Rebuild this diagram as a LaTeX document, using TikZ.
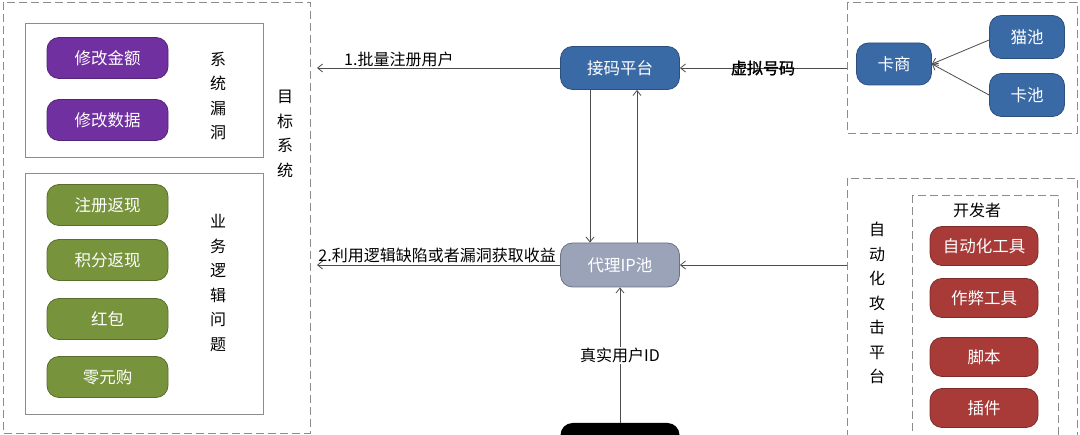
\documentclass[tikz,border=0pt]{standalone}
\usepackage{fontspec}
\newfontfamily\cjk{Noto Sans CJK SC}
\newfontfamily\cjkb[FakeBold=1.5]{Noto Sans CJK SC}
\usetikzlibrary{arrows.meta}
\definecolor{cpurple}{HTML}{7030A0}
\definecolor{cgreen}{HTML}{77933C}
\definecolor{cred}{HTML}{A83A38}
\definecolor{cblue}{HTML}{3A6AA6}
\definecolor{cgray}{HTML}{9AA3B8}
\definecolor{lgray}{HTML}{8C8C8C}
\tikzset{
  pill/.style={rounded corners=12pt, minimum width=121pt, minimum height=41pt, text=white, font=\cjk\fontsize{16.5}{18}\selectfont, inner sep=0pt, line width=0.8pt},
  purplebox/.style={pill, fill=cpurple, draw=cpurple!75!black},
  greenbox/.style={pill, fill=cgreen, draw=cgreen!75!black},
  redbox/.style={pill, fill=cred, draw=cred!75!black, minimum width=108pt, minimum height=39pt},
  bluebox/.style={pill, fill=cblue, draw=cblue!75!black},
  graybox/.style={pill, fill=cgray, draw=cgray!70!black},
  frame/.style={draw=lgray, line width=0.8pt},
  dashframe/.style={draw=lgray, line width=0.8pt, dash pattern=on 8pt off 4pt},
  vlabel/.style={align=center, font=\cjk\fontsize{16}{24.5}\selectfont, inner sep=0pt},
  lbl/.style={font=\cjk\fontsize{16}{18}\selectfont, inner sep=1pt},
  conn/.style={draw=black!70, line width=0.8pt, -{Straight Barb[length=5pt,width=8pt]}},
}
\begin{document}
\begin{tikzpicture}[x=1pt,y=-1pt]
\clip (0,0) rectangle (1080,435);
\fill[white] (0,0) rectangle (1080,435);
% frames
\draw[dashframe] (3,2) rectangle (310,433);
\draw[frame] (25,23) rectangle (263,157);
\draw[frame] (25,173) rectangle (263,414);
\draw[dashframe] (847,2) rectangle (1077,133);
\draw[dashframe] (847,178) rectangle (1077,440);
\draw[dashframe] (912,195) rectangle (1058,440);
% left nodes
\node[purplebox] (m1) at (107.5,58) {修改金额};
\node[purplebox] (m2) at (107.5,120) {修改数据};
\node[greenbox] (g1) at (107.5,205) {注册返现};
\node[greenbox] (g2) at (107.5,260) {积分返现};
\node[greenbox] (g3) at (107.5,319) {红包};
\node[greenbox] (g4) at (107.5,377) {零元购};
\node[vlabel] (l1) at (218,96) {系\\统\\漏\\洞};
\node[vlabel] (l2) at (218,283) {业\\务\\逻\\辑\\问\\题};
\node[vlabel] (l3) at (285,134) {目\\标\\系\\统};
% left frame anchor points
\coordinate (t1) at (317,68);
\coordinate (t2) at (317,265);
% center nodes
\node[bluebox, minimum width=119pt, minimum height=43pt] (jm) at (620,68) {接码平台};
\node[graybox, minimum width=119pt, minimum height=44pt] (ip) at (620,265) {代理IP池};
\node[fill=black, rounded corners=12pt, minimum width=119pt, minimum height=44pt, inner sep=0pt] (user) at (620,445) {};
% right top
\node[bluebox, minimum width=75pt, minimum height=42pt] (ks) at (894,64) {卡商};
\node[bluebox, minimum width=75pt, minimum height=43pt] (mc) at (1027,37) {猫池};
\node[bluebox, minimum width=75pt, minimum height=43pt] (kc) at (1027,95) {卡池};
\coordinate (rt) at (847,68);
% right bottom
\node[lbl] (dev) at (977,210) {开发者};
\node[redbox] (r1) at (984,246) {自动化工具};
\node[redbox] (r2) at (984,298) {作弊工具};
\node[redbox] (r3) at (984,357) {脚本};
\node[redbox] (r4) at (984,408) {插件};
\node[vlabel] (l4) at (877,303) {自\\动\\化\\攻\\击\\平\\台};
\coordinate (rb) at (847,265);
% connectors
\draw[conn] (jm.west) -- (t1);
\node[lbl, anchor=south west] (lab1) at (343,68) {1.批量注册用户};
\draw[conn] (ip.west) -- (t2);
\node[lbl, anchor=south east] (lab2) at (557,264) {2.利用逻辑缺陷或者漏洞获取收益};
\draw[conn] (jm.south -| 590,0) -- (ip.north -| 590,0);
\draw[conn] (ip.north -| 637,0) -- (jm.south -| 637,0);
\draw[conn] (user.north) -- (ip.south) node[pos=0.5, lbl, fill=white] (lab3) {真实用户ID};
\draw[conn] (rt) -- (jm.east);
\node[lbl, font=\cjkb\fontsize{16}{18}\selectfont] (lab4) at (763,68) {虚拟号码};
\draw[conn] (rb) -- (ip.east);
\draw[conn] (mc.west) ++(0,3) -- (ks.east);
\draw[conn] (kc.west) -- (ks.east);
\end{tikzpicture}
\end{document}
